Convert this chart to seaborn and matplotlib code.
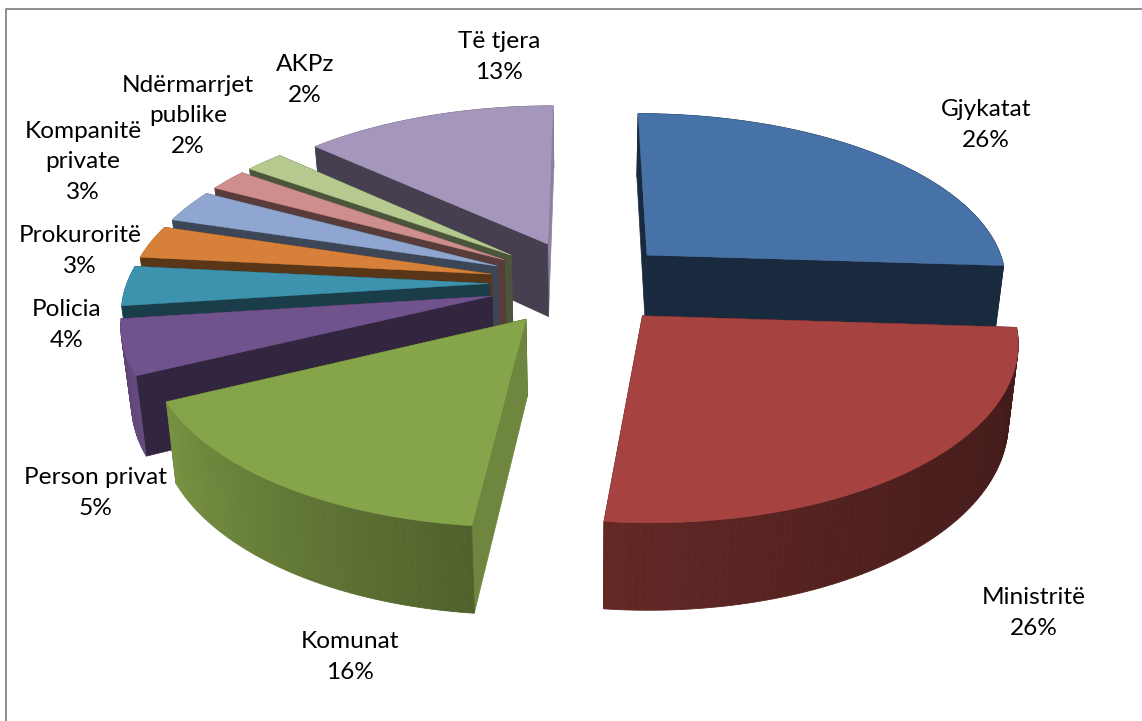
import numpy as np
import matplotlib.pyplot as plt
import seaborn as sns

categories = ["Gjykatat", "Ministritë", "Komunat", "Person privat", "Policia", "Prokuroritë",
              "Kompanitë\nprivate", "Ndërmarrjet\npublike", "AKPz", "Të tjera"]
# the labels are rounded, these fit the slice sizes better
values = [26, 25.75, 16.25, 5, 3.6, 3, 3, 2, 2, 13.4]
colors = ["#4672a8", "#a64340", "#86a44a", "#70528c", "#3d93ad", "#d7803a",
          "#8fa7d0", "#ce8e8c", "#b6ca8f", "#a597bc"]

# how far each slice is pulled out, same unit as radius
explode = [87, 87, 90, 96, 96, 96, 96, 96, 96, 92]
shift_x = [0, 0, -5, 0, 0, 0, 0, 0, 0, -1]
# shade of the wall on the first and last edge of a slice
wall_start = [0.37, 0.4, 0.82, 0.45, 0.42, 0.42, 0.42, 0.42, 0.42, 0.42]
wall_end = [0.37, 0.4, 0.4, 0.4, 0.4, 0.4, 0.4, 0.4, 0.4, 0.85]
# painted from the back to the front
order = [0, 9, 8, 7, 6, 5, 4, 3, 2, 1]

label_x = [986, 1034, 350, 96, 67, 80, 83, 188, 305, 499]
label_y = [125, 613, 657, 493, 325, 251, 162, 116, 80, 57]

cx, cy = 585, 283
radius = 362
squash = 0.48
persp = 0.14
depth = 75
shrink = 0.977

sns.set_theme(style="white")
plt.rcParams["font.family"] = ["Lato", "DejaVu Sans"]


def project(x, y, down=False):
    s = 1 + persp * y / radius
    px = x * s
    py = cy + squash * y * s
    if down:
        px = px * shrink
        py = py + depth * s
    return cx + px, py


def shade(color, f):
    return tuple(np.array(color) * f)


def arc_shade(angle):
    return np.interp(angle, [0, 94, 140, 187, 245, 265, 360], [0.37, 0.38, 0.46, 0.6, 0.9, 0.85, 0.6])


palette = sns.color_palette(colors)
edges = np.cumsum([0] + values) / sum(values) * 360

fig, ax = plt.subplots(figsize=(11.42, 7.21), dpi=100)
fig.subplots_adjust(0, 0, 1, 1)
ax.set_xlim(0, 1142)
ax.set_ylim(721, 0)
ax.axis("off")

ax.plot([6, 6, 1150], [730, 9, 9], color="#868686", lw=1.3)

for i in order:
    a0, a1 = edges[i], edges[i + 1]
    mid = np.radians((a0 + a1) / 2)
    ox = explode[i] * np.sin(mid) + shift_x[i]
    oy = -explode[i] * np.cos(mid)
    t = np.radians(np.linspace(a0, a1, max(int(a1 - a0), 2) + 1))
    rx = ox + radius * np.sin(t)
    ry = oy - radius * np.cos(t)


    def draw_arc():
        for j in range(len(t) - 1):
            top = project(rx[j:j + 2], ry[j:j + 2])
            low = project(rx[j:j + 2], ry[j:j + 2], True)
            c = shade(palette[i], arc_shade(np.degrees(t[j])))
            ax.fill(np.r_[top[0], low[0][::-1]], np.r_[top[1], low[1][::-1]], color=c, lw=0.6)


    # back facing slices get the outer wall first, it must stay behind the flat walls
    back = np.cos(mid) >= -0.05
    if back:
        draw_arc()

    walls = [(0, wall_start[i]), (-1, wall_end[i])]
    walls.sort(key=lambda w: -np.cos(t[w[0]]))
    for end, f in walls:
        p1 = project(ox, oy)
        p2 = project(rx[end], ry[end])
        p3 = project(rx[end], ry[end], True)
        p4 = project(ox, oy, True)
        c = shade(palette[i], f)
        ax.fill([p1[0], p2[0], p3[0], p4[0]], [p1[1], p2[1], p3[1], p4[1]], color=c, lw=0.5)

    if not back:
        draw_arc()

    fx, fy = project(np.r_[ox, rx], np.r_[oy, ry])
    ax.fill(fx, fy, color=palette[i], lw=0.3)

for name, val, x, y in zip(categories, values, label_x, label_y):
    ax.text(x, y, f"{name}\n{val:.0f}%", ha="center", va="center", fontsize=17.6,
            color="black", linespacing=1.55, zorder=5)

fig.savefig("out.png", dpi=100)
